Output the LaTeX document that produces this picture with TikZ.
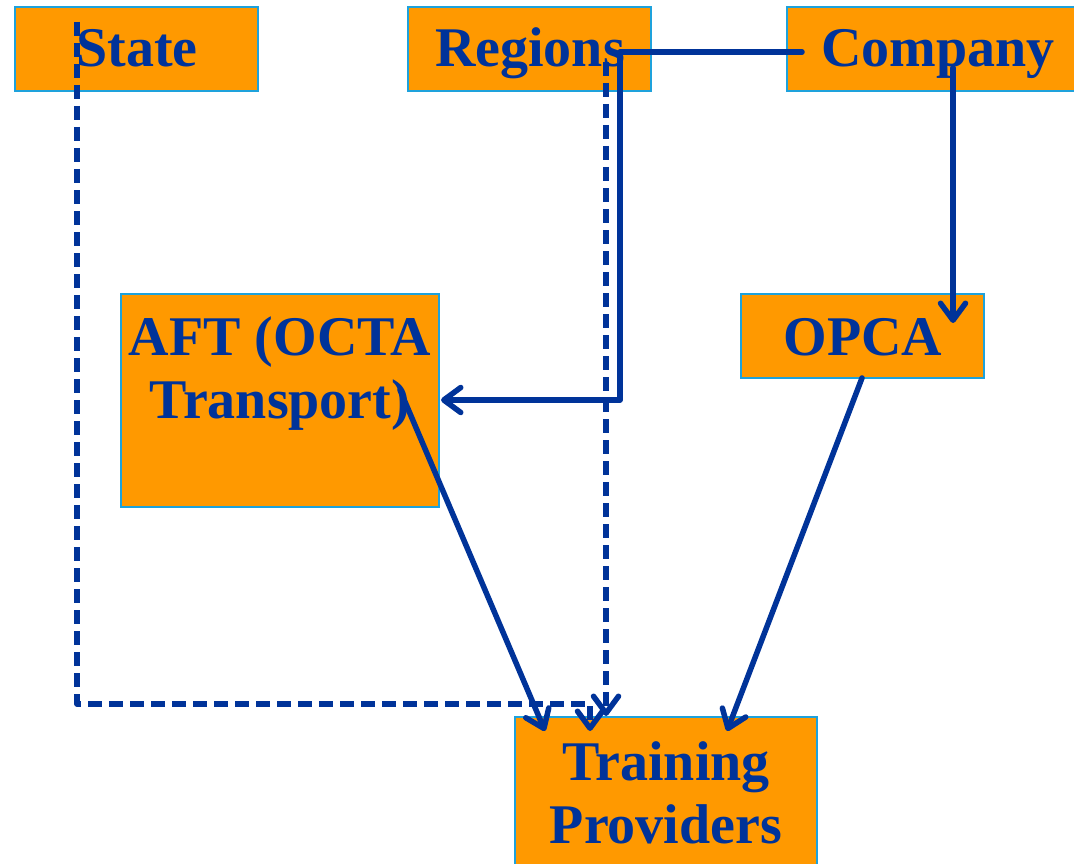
\documentclass[tikz,border=0pt]{standalone}
\usepackage{fontspec}
\setmainfont{Liberation Serif}
\usetikzlibrary{arrows.meta}
\definecolor{boxfill}{RGB}{255,153,0}
\definecolor{boxline}{RGB}{30,162,220}
\definecolor{ink}{RGB}{0,51,153}
\tikzset{
  box/.style={draw=boxline, line width=2.7pt, fill=boxfill, inner sep=0pt},
  lbl/.style={text=ink, font=\fontsize{56}{63}\selectfont\bfseries, inner sep=0pt, anchor=base, align=center},
  conn/.style={draw=ink, line width=5.5pt, line cap=round, line join=round,
    -{Straight Barb[length=17pt,width=25pt,round]}},
  dashconn/.style={conn, line cap=butt, dash pattern=on 14pt off 7pt},
}
\begin{document}
\begin{tikzpicture}[x=1pt,y=-1pt]
\useasboundingbox (0,0) rectangle (1074,864);
\fill[white] (0,0) rectangle (1074,864);
\clip (0,0) rectangle (1074,864);
% boxes
\node[box, minimum width=243pt, minimum height=84pt] (state) at (136.5,49) {};
\node[box, minimum width=243pt, minimum height=84pt] (regions) at (529.5,49) {};
\node[box, minimum width=302pt, minimum height=84pt] (company) at (938,49) {};
\node[box, minimum width=318pt, minimum height=213pt] (aft) at (280,400.5) {};
\node[box, minimum width=243pt, minimum height=84pt] (opca) at (862.5,336) {};
\node[box, minimum width=302pt, minimum height=160pt] (tp) at (666,797) {};
% labels
\node[lbl] (statet) at (137,67) {State};
\node[lbl] (regionst) at (530,67) {Regions};
\node[lbl] (companyt) at (938,67) {Company};
\node[lbl] (aftt1) at (280,355) {AFT (OCTA};
\node[lbl] (aftt2) at (280,418) {Transport)};
\node[lbl] (opcat) at (863,355) {OPCA};
\node[lbl] (tpt1) at (666,780) {Training};
\node[lbl] (tpt2) at (666,843) {Providers};
% connector points
\coordinate (sA) at (77,22);
\coordinate (sB) at (77,704);
\coordinate (sC) at (590,704);
\coordinate (sD) at (590,731);
\coordinate (rA) at (606,62);
\coordinate (rB) at (606,716);
\coordinate (cA) at (802,52);
\coordinate (cB) at (620,52);
\coordinate (cC) at (620,400);
\coordinate (aE) at (441,400);
\coordinate (cD) at (953,68);
\coordinate (oN) at (953,323);
\coordinate (aA) at (400,390);
\coordinate (tA) at (545,731);
\coordinate (oA) at (862,378);
\coordinate (tB) at (727,731);
% connectors
\draw[dashconn] (sA) -- (sB) -- (sC) -- (sD);
\draw[dashconn] (rA) -- (rB);
\draw[conn] (cA) -- (cB) -- (cC) -- (aE);
\draw[conn] (cD) -- (oN);
\draw[conn] (aA) -- (tA);
\draw[conn] (oA) -- (tB);
\end{tikzpicture}
\end{document}
